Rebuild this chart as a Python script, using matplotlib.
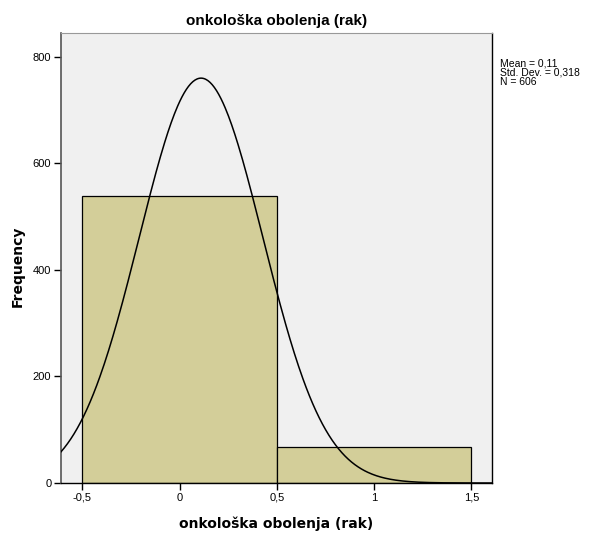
import numpy as np
import matplotlib
matplotlib.use("Agg")
import matplotlib.pyplot as plt

# histogram data (SPSS style)
bin_edges = [-0.5, 0.5, 1.5]
counts = [539, 67]
mean = 0.11
std = 0.318
n = 606
x_ticks = [-0.5, 0, 0.5, 1, 1.5]
x_tick_labels = ['-0,5', '0', '0,5', '1', '1,5']
y_ticks = [0, 200, 400, 600, 800]

fig = plt.figure(figsize=(5.92, 5.37), dpi=100)
ax = fig.add_axes([61/592, 54/537, 431/592, 450/537])
ax.set_facecolor('#f0f0f0')

widths = np.diff(bin_edges)
ax.bar(bin_edges[:-1], counts, width=widths, align='edge',
       color='#d3ce99', edgecolor='black', linewidth=0.9, zorder=2)

# normal curve scaled to counts
xs = np.linspace(-0.61, 1.606, 400)
ys = n * 1.0 / (std * np.sqrt(2 * np.pi)) * np.exp(-0.5 * ((xs - mean) / std) ** 2)
ax.plot(xs, ys, color='black', linewidth=1.1, zorder=3)

ax.set_xlim(-0.61, 1.606)
ax.set_ylim(0, 845)
ax.set_xticks(x_ticks)
ax.set_xticklabels(x_tick_labels)
ax.set_yticks(y_ticks)
ax.tick_params(direction='out', length=5, width=1, labelsize=8,
               colors='black', pad=2)
for s in ['bottom', 'right']:
    ax.spines[s].set_color('black')
    ax.spines[s].set_linewidth(1)
ax.spines['left'].set_color('#555555')
ax.spines['left'].set_linewidth(1.2)
ax.spines['top'].set_color('#999999')

tfont = 'Liberation Sans'
for lab in ax.get_xticklabels() + ax.get_yticklabels():
    lab.set_family(tfont)

ax.set_title('onkološka obolenja (rak)', fontsize=11, fontweight='bold',
             family=tfont, pad=6)
ax.set_xlabel('onkološka obolenja (rak)', fontsize=10, fontweight='bold', labelpad=10)
ax.set_ylabel('Frequency', fontsize=10, fontweight='bold')
ax.yaxis.set_label_coords(-0.083, 0.482)

fig.text(500/592, 1 - 58/537,
         'Mean = 0,11\nStd. Dev. = 0,318\nN = 606',
         fontsize=7.5, family=tfont, va='top', ha='left', linespacing=0.95)

fig.savefig('out.png', dpi=100)
